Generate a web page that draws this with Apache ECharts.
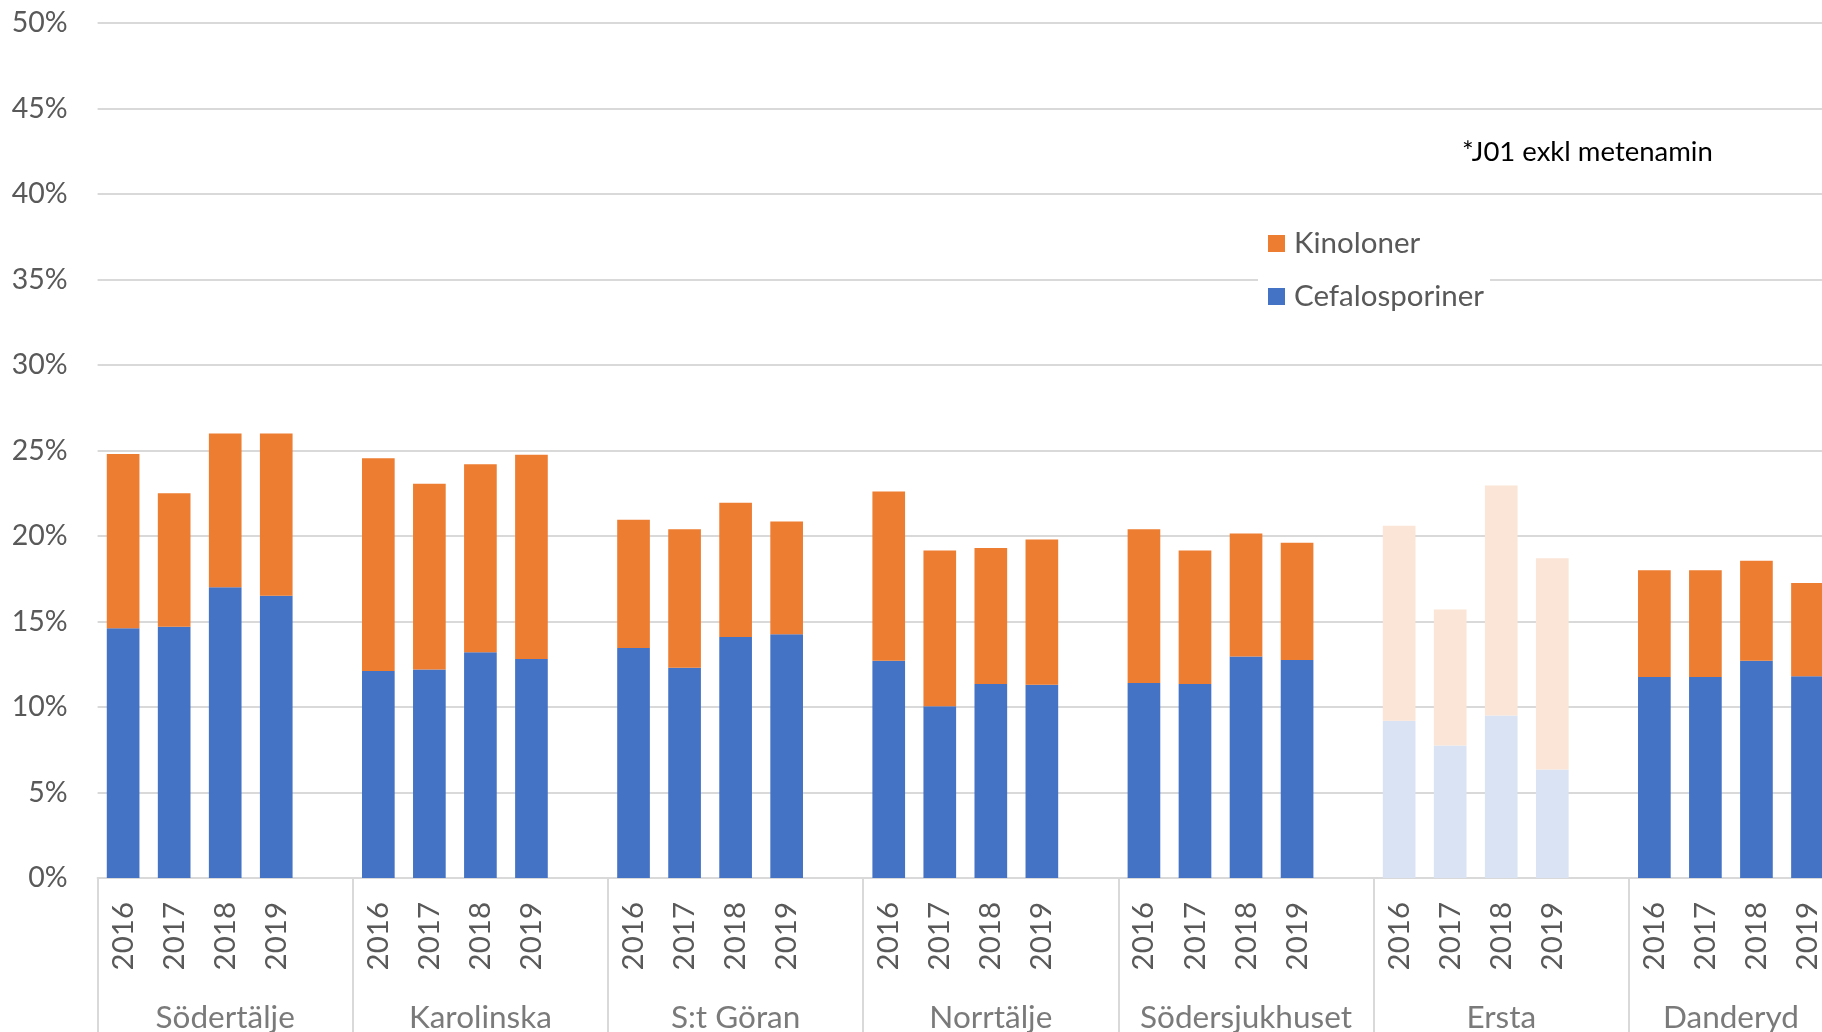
<!DOCTYPE html>
<html>
<head>
<meta charset="utf-8">
<script src="https://cdn.jsdelivr.net/npm/echarts@6/dist/echarts.min.js"></script>
<style>
html,body{margin:0;padding:0;background:#fff;overflow:hidden;width:1822px;height:1032px;}
#chart{width:1900px;height:1032px;}
</style>
</head>
<body>
<div id="chart"></div>
<script>
// ---- Data (percent) ----
const groups = ['Södertälje','Karolinska','S:t Göran','Norrtälje','Södersjukhuset','Ersta','Danderyd'];
const years = ['2016','2017','2018','2019'];
const yTicks = [0,5,10,15,20,25,30,35,40,45,50];
const cefalosporiner = [
  [14.6, 14.7, 17.0, 16.5],
  [12.1, 12.2, 13.2, 12.8],
  [13.45, 12.3, 14.1, 14.25],
  [12.7, 10.05, 11.35, 11.3],
  [11.4, 11.35, 12.95, 12.75],
  [9.2, 7.75, 9.5, 6.35],
  [11.75, 11.75, 12.7, 11.8]
];
const kinoloner = [
  [10.2, 7.8, 9.0, 9.5],
  [12.45, 10.85, 11.0, 11.95],
  [7.5, 8.1, 7.85, 6.6],
  [9.9, 9.1, 7.95, 8.5],
  [9.0, 7.8, 7.2, 6.85],
  [11.4, 7.95, 13.45, 12.35],
  [6.25, 6.25, 5.85, 5.45]
];
const fadedGroups = ['Ersta'];
const note = '*J01 exkl metenamin';

// ---- Styles ----
const BLUE = '#4472C4', ORANGE = '#ED7D31';
const BLUE_F = '#DAE3F3', ORANGE_F = '#FBE5D6';
const GRID = '#D9D9D9', TXT = '#595959';
const FONT = 'Lato';

// Build categories: 4 years per group, with an empty spacer slot between groups
const cats = [];
const cefData = [];
const kinData = [];
const groupSpan = []; // [startSlot, slotCount] per group
groups.forEach((g, gi) => {
  const faded = fadedGroups.indexOf(g) >= 0;
  const start = cats.length;
  years.forEach((y, yi) => {
    cats.push(g + '|' + y);
    cefData.push({ value: cefalosporiner[gi][yi], itemStyle: { color: faded ? BLUE_F : BLUE } });
    kinData.push({ value: kinoloner[gi][yi], itemStyle: { color: faded ? ORANGE_F : ORANGE } });
  });
  if (gi < groups.length - 1) {
    cats.push(g + '|');
    cefData.push('-');
    kinData.push('-');
  }
  groupSpan.push([start, cats.length - start]);
});

const chart = echarts.init(document.getElementById('chart'), null, { renderer: 'canvas' });
chart.setOption({
  animation: false,
  textStyle: { fontFamily: FONT },
  grid: { left: 97.6, right: 67, top: 23, bottom: 154, containLabel: false },
  legend: {
    data: ['Kinoloner', 'Cefalosporiner'],
    orient: 'vertical',
    left: 1258,
    top: 222,
    padding: [6, 6, 6, 10],
    backgroundColor: '#fff',
    icon: 'rect',
    itemWidth: 17,
    itemHeight: 17,
    itemGap: 22,
    textStyle: { color: TXT, fontSize: 29.5, fontFamily: FONT, lineHeight: 31, padding: [0, 0, 0, 4] },
    selectedMode: false
  },
  graphic: [{
    type: 'text',
    left: 1462,
    top: 138,
    style: { text: note, fontSize: 27.5, fontFamily: FONT, fill: '#000' }
  }],
  xAxis: [{
    type: 'category',
    data: cats,
    position: 'bottom',
    axisLine: { show: true, lineStyle: { color: GRID, width: 2 } },
    axisTick: { show: false },
    axisLabel: {
      interval: 0, rotate: 90, margin: 24, fontSize: 29.5, color: TXT, fontFamily: FONT,
      formatter: v => v.split('|')[1]
    },
    splitLine: { show: false }
  }, {
    // group level: same slots, ticks at group boundaries
    type: 'category',
    data: cats,
    position: 'bottom',
    axisLine: { show: false },
    axisTick: {
      show: true, length: 170, lineStyle: { color: GRID, width: 2 },
      interval: (i, v) => v.split('|')[1] === years[0]
    },
    axisLabel: { show: false },
    splitLine: { show: false }
  }, {
    type: 'value',
    min: 0, max: cats.length,
    show: true,
    position: 'bottom',
    axisLine: { show: false },
    axisTick: { show: false },
    splitLine: { show: false },
    axisLabel: { show: false }
  }],
  yAxis: {
    type: 'value',
    min: yTicks[0], max: yTicks[yTicks.length - 1], interval: 5,
    axisLine: { show: false },
    axisTick: { show: false },
    axisLabel: { formatter: '{value}%', fontSize: 28.5, color: TXT, margin: 30, fontFamily: FONT },
    splitLine: { lineStyle: { color: GRID, width: 2 } }
  },
  series: [{
    name: 'Cefalosporiner',
    type: 'bar',
    stack: 'total',
    xAxisIndex: 0,
    barCategoryGap: '36%',
    itemStyle: { color: BLUE },
    data: cefData
  }, {
    name: 'Kinoloner',
    type: 'bar',
    stack: 'total',
    xAxisIndex: 0,
    barCategoryGap: '36%',
    itemStyle: { color: ORANGE },
    data: kinData
  }, {
    // group labels, centred on each group's span of slots
    type: 'scatter',
    xAxisIndex: 2,
    symbolSize: 0,
    silent: true,
    data: groupSpan.map(s => [s[0] + s[1] / 2, 0]),
    label: {
      show: true,
      position: 'bottom',
      distance: 124,
      formatter: p => groups[p.dataIndex],
      fontSize: 31.5, color: TXT, fontFamily: FONT
    }
  }]
});
</script>
</body>
</html>
